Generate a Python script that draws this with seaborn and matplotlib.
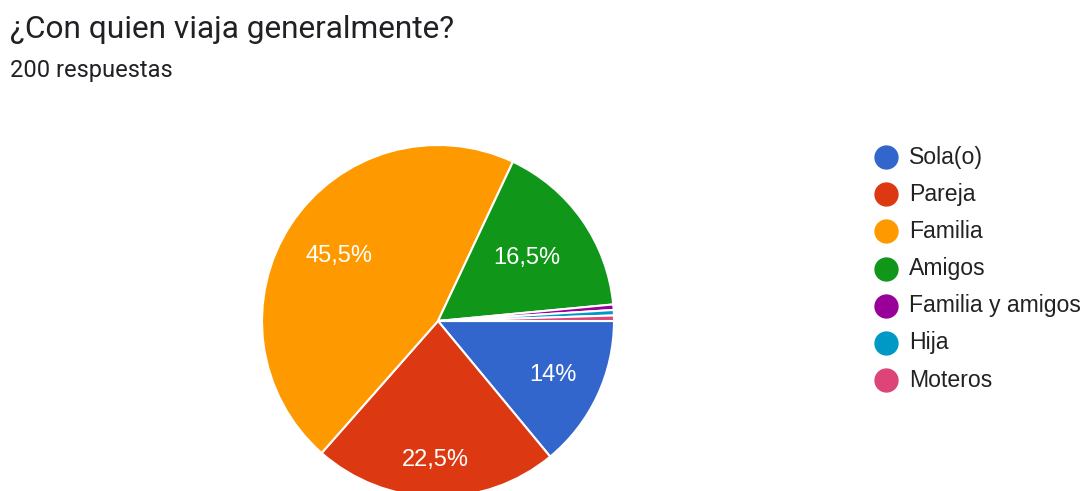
import matplotlib
matplotlib.use("Agg")
import matplotlib.pyplot as plt
from matplotlib.lines import Line2D
import numpy as np
import seaborn as sns

categories = ["Sola(o)", "Pareja", "Familia", "Amigos", "Familia y amigos", "Hija", "Moteros"]
counts = [28, 45, 91, 33, 1, 1, 1]
colors = ["#3366cc", "#dc3912", "#ff9900", "#109618", "#990099", "#0099c6", "#dd4477"]
title = "¿Con quien viaja generalmente?"
subtitle = "200 respuestas"

sns.set_theme(style="white")
plt.rcParams["font.family"] = ["Roboto", "DejaVu Sans"]
chart_font = ["Liberation Sans", "DejaVu Sans"]

W, H = 1086, 491
fig = plt.figure(figsize=(W / 100, H / 100), dpi=100)
fig.patch.set_facecolor("white")

# pie axes: center (438, 321), radius 176 px
cx, cy, r = 438, 321, 176
ax = fig.add_axes([(cx - r) / W, (H - (cy + r)) / H, 2 * r / W, 2 * r / H])
wedges, _ = ax.pie(counts, colors=colors, startangle=0, counterclock=False,
                   wedgeprops=dict(edgecolor="white", linewidth=1.5))
ax.set_xlim(-1, 1)
ax.set_ylim(-1, 1)
ax.set_aspect("auto")
ax.axis("off")

total = sum(counts)
label_dist = [0.72, 0.79, 0.675, 0.62]
for i, (w, c) in enumerate(zip(wedges, counts)):
    pct = 100 * c / total
    if pct < 1:
        continue
    mid = np.deg2rad((w.theta1 + w.theta2) / 2)
    d = label_dist[i]
    txt = f"{pct:.1f}".rstrip("0").rstrip(".").replace(".", ",") + "%"
    ax.text(d * np.cos(mid), d * np.sin(mid), txt, ha="center", va="center",
            color="white", fontsize=17, family=chart_font)

fig.text(10 / W, 1 - 30 / H, title, fontsize=22.8, color="#202124", va="center", ha="left")
fig.text(10 / W, 1 - 71 / H, subtitle, fontsize=17, color="#202124", va="center", ha="left")

for i, (lab, col) in enumerate(zip(categories, colors)):
    y = 157 + i * 37.2
    fig.add_artist(Line2D([886 / W], [1 - y / H], marker="o", markersize=16.5,
                          color=col, linestyle="none", transform=fig.transFigure))
    fig.text(909 / W, 1 - y / H, lab, fontsize=16.6, color="#222222", va="center",
             ha="left", family=chart_font)

fig.savefig("out.png", dpi=100, facecolor="white")
